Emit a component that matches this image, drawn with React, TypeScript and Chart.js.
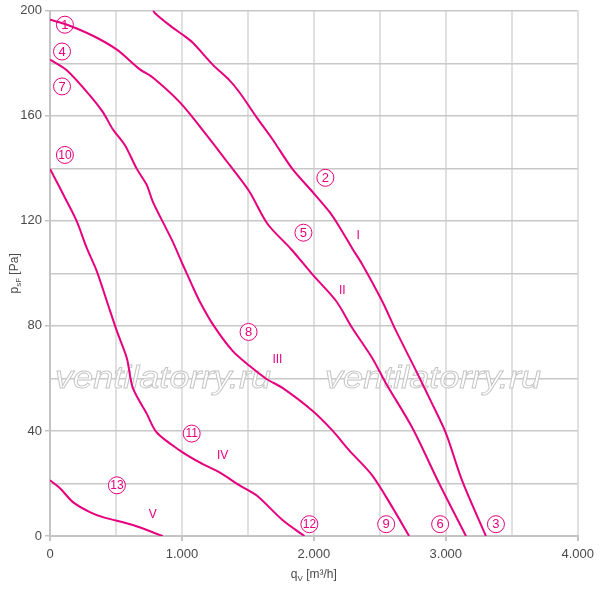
import React, { useEffect, useRef } from 'react'
import { Chart, registerables, Plugin } from 'chart.js'

Chart.register(...registerables)

const PINK = '#e6007e'
const GRAY_TEXT = '#4a4a4a'

// fan curves, q [m³/h] vs p [Pa]
const curveI: [number, number][] = [
  [775, 201], [794, 199.2], [930, 193.6], [1006, 190.9], [1081, 187.9], [1233, 179.5],
  [1361, 173.5], [1437, 168.9], [1565, 159.5], [1686, 151.1], [1837, 139.8],
  [1989, 131.1], [2117, 123.5], [2193, 117.8], [2291, 109.5], [2367, 103.4],
  [2518, 89.4], [2624, 78.0], [2775, 62.9], [2896, 50.4], [3002, 39.0],
  [3123, 21.2], [3304, 0],
]
const curveII: [number, number][] = [
  [0, 196.6], [129, 194.7], [325, 190.5], [507, 185.2], [681, 177.7], [779, 174.6],
  [983, 165.2], [1187, 152.7], [1361, 141.3], [1512, 131.1], [1648, 118.9],
  [1830, 109.1], [1989, 99.6], [2170, 89.4], [2291, 79.2], [2442, 67.8],
  [2548, 58.0], [2745, 41.3], [2949, 20.1], [3153, 0],
]
const curveIII: [number, number][] = [
  [0, 181.4], [129, 177.3], [302, 167.8], [401, 161.4], [476, 154.9], [567, 148.9],
  [658, 139.8], [733, 133.7], [779, 127.3], [854, 119.7], [930, 112.1],
  [1006, 103.4], [1074, 95.8], [1134, 89.4], [1233, 80.7], [1384, 70.5],
  [1512, 64.8], [1641, 59.8], [1762, 56.4], [1989, 47.7], [2140, 40.2],
  [2268, 32.6], [2442, 23.1], [2594, 11.0], [2722, 0],
]
const curveIV: [number, number][] = [
  [0, 139.8], [129, 127.3], [204, 119.7], [280, 109.5], [355, 100.8], [431, 89.4],
  [507, 78.0], [582, 67.8], [628, 56.4], [733, 46.6], [809, 39.4], [983, 32.6],
  [1134, 28.0], [1285, 24.2], [1437, 19.3], [1565, 15.5], [1762, 6.1], [1928, 0],
]
const curveV: [number, number][] = [
  [0, 21.2], [76, 18.2], [174, 12.9], [302, 9.1], [401, 7.2], [628, 4.2], [854, 0],
]
const curves = [curveI, curveII, curveIII, curveIV, curveV]

// circled point numbers
const markerNames = ['1', '4', '7', '10', '13', '2', '5', '8', '11', '12', '9', '6', '3']
const markerPos: [number, number][] = [
  [113, 194.7], [91, 184.5], [91, 171.2], [113, 145.1], [507, 19.3],
  [2087, 136.4], [1921, 115.5], [1505, 77.7], [1074, 39.0],
  [1966, 4.5], [2548, 4.5], [2957, 4.5], [3380, 4.5],
]

// curve names
const romanNames = ['I', 'II', 'III', 'IV', 'V']
const romanPos: [number, number][] = [
  [2336, 114.4], [2215, 93.6], [1724, 67.0], [1308, 30.7], [779, 8.0],
]

const formatQ = (v: number) => (v === 0 ? '0' : `${v / 1000}.000`)

const drawSub = (
  ctx: CanvasRenderingContext2D, main: string, sub: string, rest: string, cx: number, cy: number
) => {
  const mainFont = '12px "Liberation Sans", Arial, sans-serif'
  const subFont = '8px "Liberation Sans", Arial, sans-serif'
  ctx.font = mainFont
  const w1 = ctx.measureText(main).width
  const w3 = ctx.measureText(rest).width
  ctx.font = subFont
  const w2 = ctx.measureText(sub).width
  let x = cx - (w1 + w2 + w3) / 2
  ctx.textAlign = 'left'
  ctx.textBaseline = 'alphabetic'
  ctx.font = mainFont
  ctx.fillText(main, x, cy)
  x += w1
  ctx.font = subFont
  ctx.fillText(sub, x, cy + 3)
  x += w2
  ctx.font = mainFont
  ctx.fillText(rest, x, cy)
}

const axisTitles: Plugin = {
  id: 'axisTitles',
  afterDraw(chart) {
    const ctx = chart.ctx
    const { chartArea } = chart
    ctx.save()
    ctx.fillStyle = GRAY_TEXT
    drawSub(ctx, 'q', 'V', ' [m³/h]', (chartArea.left + chartArea.right) / 2, chartArea.bottom + 42)
    ctx.translate(18, (chartArea.top + chartArea.bottom) / 2)
    ctx.rotate(-Math.PI / 2)
    drawSub(ctx, 'p', 'sF', ' [Pa]', 0, 0)
    ctx.restore()
  },
}

const watermark: Plugin = {
  id: 'watermark',
  beforeDatasetsDraw(chart) {
    const ctx = chart.ctx
    const { chartArea } = chart
    const text = 'ventilatorry.ru'
    ctx.save()
    ctx.font = 'italic 32px "Liberation Sans", Arial, sans-serif'
    ctx.textAlign = 'left'
    ctx.textBaseline = 'alphabetic'
    ctx.fillStyle = '#ffffff'
    ctx.strokeStyle = '#c4c4c4'
    const stretch = 216 / ctx.measureText(text).width
    const y = chartArea.top + 377
    for (const x of [chartArea.left + 5, chartArea.left + 275]) {
      ctx.save()
      ctx.translate(x, y)
      ctx.scale(stretch, 1)
      ctx.lineWidth = 1 / stretch
      ctx.fillText(text, 0, 0)
      ctx.strokeText(text, 0, 0)
      ctx.restore()
    }
    ctx.restore()
  },
}

const labelsPlugin: Plugin = {
  id: 'curveLabels',
  afterDatasetsDraw(chart) {
    const ctx = chart.ctx
    const xs = chart.scales.x
    const ys = chart.scales.y
    ctx.save()
    ctx.fillStyle = PINK
    ctx.textAlign = 'center'
    ctx.textBaseline = 'middle'
    markerNames.forEach((name, i) => {
      const px = xs.getPixelForValue(markerPos[i][0])
      const py = ys.getPixelForValue(markerPos[i][1])
      ctx.font = name.length > 1
        ? '12px "Liberation Sans Narrow", "Liberation Sans", Arial, sans-serif'
        : '13px "Liberation Sans", Arial, sans-serif'
      ctx.fillText(name, px, py + 0.5)
    })
    ctx.font = '12px "Liberation Sans", Arial, sans-serif'
    romanNames.forEach((name, i) => {
      ctx.fillText(name, xs.getPixelForValue(romanPos[i][0]), ys.getPixelForValue(romanPos[i][1]))
    })
    ctx.restore()
  },
}

const FanChart = () => {
  const canvasRef = useRef<HTMLCanvasElement>(null)

  useEffect(() => {
    if (!canvasRef.current) return
    const ctx = canvasRef.current.getContext('2d')
    if (!ctx) return

    const lineSets: any[] = curves.map((c, i) => ({
      type: 'line',
      label: romanNames[i],
      data: c.map(([x, y]) => ({ x, y })),
      borderColor: PINK,
      borderWidth: 2,
      pointRadius: 0,
      tension: 0.3,
      fill: false,
    }))

    const chart = new Chart(ctx, {
      type: 'scatter',
      data: {
        datasets: [
          ...lineSets,
          {
            type: 'scatter',
            label: 'markers',
            data: markerPos.map(([x, y]) => ({ x, y })),
            pointRadius: 8.5,
            pointBackgroundColor: '#ffffff',
            pointBorderColor: PINK,
            pointBorderWidth: 1,
            showLine: false,
            clip: false,
          },
        ],
      },
      options: {
        animation: false,
        responsive: false,
        layout: { padding: { top: 8, right: 20, left: 0, bottom: 0 } },
        plugins: {
          legend: { display: false },
          tooltip: { enabled: false },
        },
        scales: {
          x: {
            type: 'linear',
            min: 0,
            max: 4000,
            afterFit: (scale: any) => { scale.height = 54 },
            ticks: {
              stepSize: 500,
              autoSkip: false,
              maxRotation: 0,
              padding: 6,
              color: GRAY_TEXT,
              font: { family: '"Liberation Sans", Arial, sans-serif', size: 13 },
              callback: (v: any) => (Number(v) % 1000 === 0 ? formatQ(Number(v)) : ''),
            },
            grid: {
              color: '#e0e0e0',
              lineWidth: 2,
              tickLength: 5,
              tickColor: (c: any) => (c.tick && c.tick.value % 1000 === 0 ? '#c4c4c4' : 'rgba(0,0,0,0)'),
            },
            border: { color: '#c4c4c4', width: 2 },
          },
          y: {
            type: 'linear',
            min: 0,
            max: 200,
            afterFit: (scale: any) => { scale.width = 50 },
            ticks: {
              stepSize: 20,
              autoSkip: false,
              padding: 3,
              color: GRAY_TEXT,
              font: { family: '"Liberation Sans", Arial, sans-serif', size: 13 },
              callback: (v: any) => (Number(v) % 40 === 0 ? String(v) : ''),
            },
            grid: {
              color: '#c8c8c8',
              lineWidth: 1.5,
              tickLength: 5,
              tickColor: (c: any) => (c.tick && c.tick.value % 40 === 0 ? '#c4c4c4' : 'rgba(0,0,0,0)'),
            },
            border: { color: '#c4c4c4', width: 2 },
          },
        },
      },
      plugins: [watermark, labelsPlugin, axisTitles],
    } as any)

    return () => chart.destroy()
  }, [])

  return <canvas ref={canvasRef} width={600} height={590} style={{ display: 'block' }} />
}

export default function App() {
  return (
    <div style={{ position: 'fixed', left: 0, top: 0, width: 600, height: 590, background: '#ffffff' }}>
      <FanChart />
    </div>
  )
}
